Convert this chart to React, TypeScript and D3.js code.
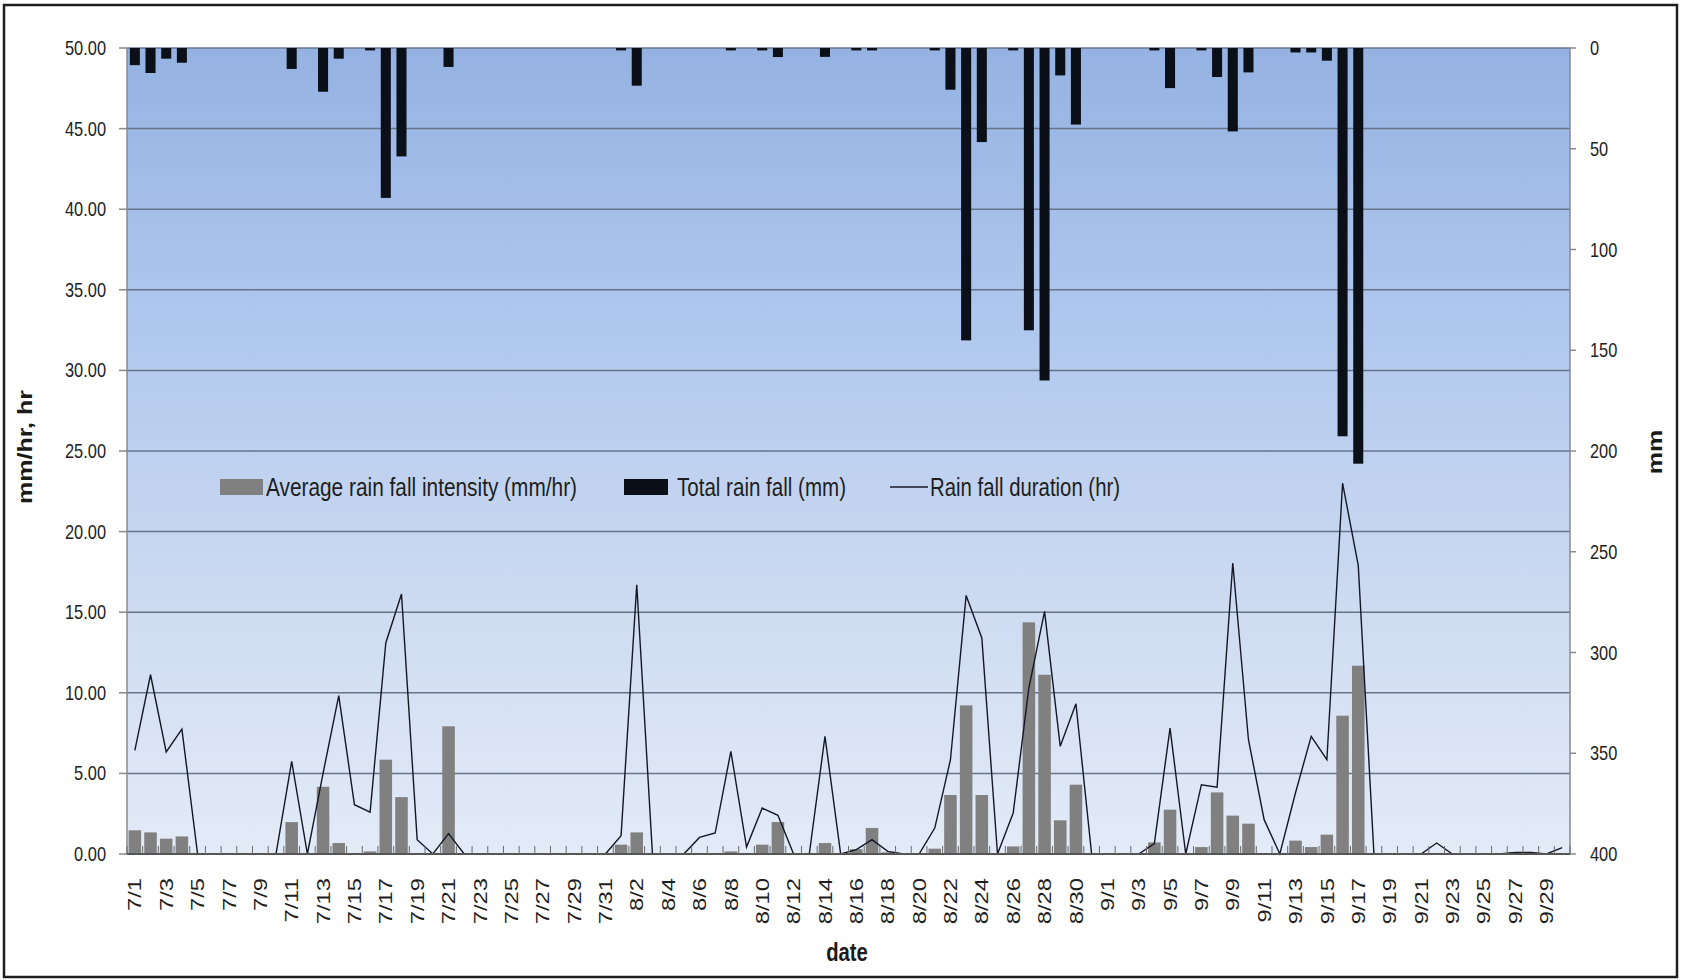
import React from "react";
import * as d3 from "d3";

// Daily categories 7/1 – 9/30
const months: [number, number][] = [
  [7, 31],
  [8, 31],
  [9, 30],
];
const dates: string[] = months.flatMap(([m, n]) =>
  Array.from({ length: n }, (_, k) => `${m}/${k + 1}`)
);

// Average rain fall intensity (mm/hr), left axis
const intensity: number[] = [
  // July
  1.47, 1.34, 0.95, 1.09, 0, 0, 0, 0, 0, 0, 1.98, 0, 4.17, 0.68, 0, 0.16, 5.85, 3.53, 0, 0, 7.92,
  0, 0, 0, 0, 0, 0, 0, 0, 0, 0,
  // August
  0.58, 1.34, 0, 0, 0, 0, 0, 0.16, 0, 0.58, 1.98, 0, 0, 0.68, 0, 0.3, 1.61, 0.1, 0, 0, 0.33,
  3.66, 9.22, 3.66, 0, 0.47, 14.37, 11.12, 2.09, 4.3, 0,
  // September
  0, 0, 0, 0.72, 2.75, 0, 0.43, 3.82, 2.38, 1.88, 0, 0, 0.83, 0.43, 1.2, 8.58, 11.68, 0, 0, 0,
  0, 0, 0, 0, 0, 0, 0.1, 0.1, 0, 0,
];

// Total rain fall (mm), right axis (reversed)
const totalRain: number[] = [
  // July
  8.5, 12.4, 5.3, 7.3, 0, 0, 0, 0, 0, 0, 10.4, 0, 21.7, 5.3, 0, 1.2, 74.4, 53.8, 0, 0, 9.4,
  0, 0, 0, 0, 0, 0, 0, 0, 0, 0,
  // August
  1.2, 18.7, 0, 0, 0, 0, 0, 1.2, 0, 1.2, 4.5, 0, 0, 4.4, 0, 1.2, 1.2, 0, 0, 0, 1.2,
  20.7, 145.1, 46.7, 0, 1.2, 140.1, 165, 13.6, 38, 0,
  // September
  0, 0, 0, 1.2, 19.9, 0, 1.2, 14.4, 41.4, 12.1, 0, 0, 2.2, 2.2, 6.3, 192.7, 206.3, 0, 0, 0,
  0, 0, 0, 0, 0, 0, 0, 0, 0, 0,
];

// Rain fall duration (hr), left axis
const duration: number[] = [
  // July
  6.43, 11.12, 6.33, 7.75, 0, 0, 0, 0, 0, 0, 5.75, 0, 5.0, 9.82, 3.06, 2.6, 13.09, 16.13, 0.89, 0, 1.26,
  0, 0, 0, 0, 0, 0, 0, 0, 0, 0,
  // August
  1.14, 16.7, 0, 0, 0, 1.03, 1.3, 6.37, 0.43, 2.85, 2.4, 0, 0, 7.3, 0, 0.27, 0.89, 0.16, 0, 0, 1.61,
  5.85, 16.04, 13.4, 0, 2.54, 10.3, 15.05, 6.68, 9.32, 0,
  // September
  0, 0, 0, 0.64, 7.81, 0, 4.3, 4.15, 18.05, 7.09, 2.13, 0, 3.8, 7.3, 5.85, 23.0, 17.9, 0, 0, 0,
  0, 0.68, 0, 0, 0, 0, 0.1, 0.1, 0, 0.4,
];

const leftTicks: number[] = [0, 5, 10, 15, 20, 25, 30, 35, 40, 45, 50];
const rightTicks: number[] = [0, 50, 100, 150, 200, 250, 300, 350, 400];

const legendLabels = [
  "Average rain fall intensity (mm/hr)",
  "Total rain fall (mm)",
  "Rain fall duration (hr)",
];

const W = 1683;
const H = 980;
const L = 127;
const R = 1570;
const T = 48;
const B = 854;
const FONT = "'Liberation Sans', Arial, sans-serif";
const SQ = 0.82; // horizontal squeeze of upright text
const ST = 1.25; // stretch along rotated text

export default function App() {
  const x = d3.scaleBand<string>().domain(dates).range([L, R]).padding(0);
  const bw = x.bandwidth();
  const cx = (d: string) => (x(d) as number) + bw / 2;
  const yL = d3.scaleLinear().domain([0, 50]).range([B, T]);
  const yR = d3.scaleLinear().domain([0, 400]).range([T, B]);

  const grayW = bw * 0.8;
  const blackW = bw * 0.64;

  const line = d3
    .line<number>()
    .x((_, i) => cx(dates[i]))
    .y((v) => yL(v));

  const boundaries = d3.range(dates.length + 1).map((k) => L + k * bw);

  return (
    <svg
      width={W}
      height={H}
      style={{ position: "absolute", left: 0, top: 0, display: "block", background: "#fff" }}
      fontFamily={FONT}
    >
      <defs>
        <linearGradient id="plotBg" x1="0" y1="0" x2="0" y2="1">
          <stop offset="0" stopColor="#95b2e2" />
          <stop offset="0.35" stopColor="#b0c8ee" />
          <stop offset="0.7" stopColor="#cedbf1" />
          <stop offset="1" stopColor="#e3ebf7" />
        </linearGradient>
      </defs>

      {/* outer chart frame */}
      <rect x={4} y={5} width={1673} height={972} fill="#fff" stroke="#1e1e1e" strokeWidth={2.5} />

      {/* plot area */}
      <rect x={L} y={T} width={R - L} height={B - T} fill="url(#plotBg)" />

      {/* gridlines */}
      {leftTicks.map((t) => (
        <line key={`g${t}`} x1={L} x2={R} y1={yL(t)} y2={yL(t)} stroke="#66748a" strokeWidth={1.5} />
      ))}

      {/* left axis */}
      <line x1={L} x2={L} y1={T} y2={B} stroke="#8a8a8a" strokeWidth={1.5} />
      {leftTicks.map((t) => (
        <g key={`lt${t}`}>
          <line x1={L - 8} x2={L} y1={yL(t)} y2={yL(t)} stroke="#8a8a8a" strokeWidth={1.5} />
          <text
            transform={`translate(106,${yL(t)}) scale(${SQ},1)`}
            textAnchor="end"
            dy="0.35em"
            fontSize={20}
            fill="#222"
          >
            {t.toFixed(2)}
          </text>
        </g>
      ))}

      {/* right axis */}
      <line x1={R} x2={R} y1={T} y2={B} stroke="#8a8a8a" strokeWidth={1.5} />
      {rightTicks.map((t) => (
        <g key={`rt${t}`}>
          <line x1={R} x2={R + 6} y1={yR(t)} y2={yR(t)} stroke="#8a8a8a" strokeWidth={1.5} />
          <text
            transform={`translate(1590,${yR(t)}) scale(${SQ},1)`}
            textAnchor="start"
            dy="0.35em"
            fontSize={20}
            fill="#222"
          >
            {t}
          </text>
        </g>
      ))}

      {/* average intensity bars */}
      {intensity.map((v, i) =>
        v > 0 ? (
          <rect
            key={`ib${i}`}
            x={cx(dates[i]) - grayW / 2}
            y={yL(v)}
            width={grayW}
            height={B - yL(v)}
            fill="#808080"
          />
        ) : null
      )}

      {/* total rain bars hanging from the top */}
      {totalRain.map((v, i) =>
        v > 0 ? (
          <rect
            key={`tb${i}`}
            x={cx(dates[i]) - blackW / 2}
            y={T}
            width={blackW}
            height={yR(v) - T}
            fill="#0b0f18"
          />
        ) : null
      )}

      {/* duration line */}
      <path d={line(duration) ?? ""} fill="none" stroke="#141826" strokeWidth={1.4} strokeLinejoin="miter" />

      {/* category axis */}
      <line x1={L} x2={R} y1={B} y2={B} stroke="#555" strokeWidth={1.8} />
      {boundaries.map((bx, k) => (
        <line key={`xt${k}`} x1={bx} x2={bx} y1={B} y2={B - 8} stroke="#6a6a6a" strokeWidth={1} />
      ))}
      {dates.map((d, i) =>
        i % 2 === 0 ? (
          <text
            key={`xl${d}`}
            transform={`translate(${cx(d)},878) rotate(-90) scale(${ST},1)`}
            textAnchor="end"
            dy="0.35em"
            fontSize={19}
            fill="#1e1e1e"
          >
            {d}
          </text>
        ) : null
      )}

      {/* axis titles */}
      <text
        transform={`translate(847,961) scale(0.78,1)`}
        textAnchor="middle"
        fontSize={26}
        fontWeight="bold"
        fill="#1a1a1a"
      >
        date
      </text>
      <text
        transform={`translate(25,447) rotate(-90) scale(${ST},1)`}
        textAnchor="middle"
        dy="0.35em"
        fontSize={20}
        fontWeight="bold"
        fill="#1a1a1a"
      >
        mm/hr, hr
      </text>
      <text
        transform={`translate(1655,452) rotate(-90) scale(${ST},1)`}
        textAnchor="middle"
        dy="0.35em"
        fontSize={20}
        fontWeight="bold"
        fill="#1a1a1a"
      >
        mm
      </text>

      {/* legend */}
      <g>
        <rect x={220} y={479} width={43} height={16} fill="#808080" />
        <text x={266} y={487} dy="0.35em" fontSize={25} textLength={311} lengthAdjust="spacingAndGlyphs" fill="#1e1e1e">
          {legendLabels[0]}
        </text>
        <rect x={624} y={479} width={44} height={16} fill="#0b0f18" />
        <text x={677} y={487} dy="0.35em" fontSize={25} textLength={169} lengthAdjust="spacingAndGlyphs" fill="#1e1e1e">
          {legendLabels[1]}
        </text>
        <line x1={890} x2={928} y1={487} y2={487} stroke="#141826" strokeWidth={1.5} />
        <text x={930} y={487} dy="0.35em" fontSize={25} textLength={190} lengthAdjust="spacingAndGlyphs" fill="#1e1e1e">
          {legendLabels[2]}
        </text>
      </g>
    </svg>
  );
}
